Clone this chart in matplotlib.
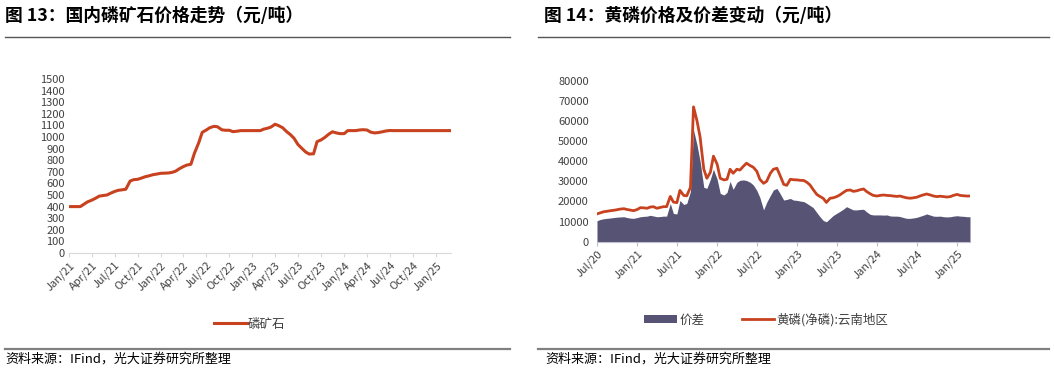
import matplotlib
matplotlib.use("Agg")
import matplotlib.pyplot as plt
import matplotlib.dates as mdates
import pandas as pd
from matplotlib.lines import Line2D

plt.rcParams['font.family'] = ['Noto Sans CJK SC', 'DejaVu Sans']

# fig 13: phosphate rock price, twice a month from Jan 2021
rock_price = [
    400, 400, 400, 400, 420, 440, 455, 470, 490, 495,
    500, 515, 530, 540, 545, 550, 620, 632, 635, 645,
    658, 665, 675, 680, 687, 688, 690, 695, 705, 725,
    745, 758, 765, 860, 950, 1040, 1060, 1080, 1092, 1088,
    1062, 1058, 1058, 1046, 1050, 1055, 1055, 1055, 1055, 1055,
    1055, 1068, 1075, 1085, 1110, 1098, 1080, 1050, 1020, 990,
    935, 905, 870, 853, 855, 960, 975, 995, 1025, 1045,
    1035, 1029, 1029, 1055, 1055, 1055, 1060, 1063, 1060, 1042,
    1035, 1038, 1045, 1052, 1056, 1055, 1055, 1055, 1055, 1055,
    1055, 1055, 1055, 1055, 1055, 1055, 1055, 1055, 1055, 1055,
    1055,
]

# fig 14: yellow phosphorus price and spread, twice a month from Jul 2020
p4_price = [
    13800, 14300, 14900, 15100, 15400, 15600, 15900, 16200, 16400, 16000,
    15700, 15400, 16000, 16900, 16800, 16600, 17200, 17400, 16600, 17000,
    17400, 17400, 22500, 19700, 19400, 25500, 23000, 22800, 27000, 67000,
    60000, 52000, 36000, 31500, 34500, 42500, 38500, 31500, 30700, 31000,
    36000, 34000, 36000, 35600, 37500, 39000, 37800, 37000, 35000, 31000,
    29000, 30000, 34000, 36000, 36500, 33000, 28500, 28000, 31000, 30800,
    30700, 30500, 30400, 29500, 28200, 26000, 23500, 22500, 21500, 19500,
    21600, 21800, 22400, 23200, 24500, 25500, 25700, 25000, 25300, 25800,
    26200, 24900, 23800, 23000, 22700, 23000, 23200, 23000, 22900, 22700,
    22500, 22700, 22200, 21800, 21600, 21800, 22100, 22700, 23300, 23700,
    23200, 22700, 22400, 22600, 22400, 22200, 22400, 23000, 23500, 23000,
    22800, 22700, 22700,
]
p4_spread = [
    10400, 11000, 11400, 11600, 11800, 12000, 12200, 12300, 12400, 12000,
    11700, 11600, 12000, 12400, 12600, 12700, 13100, 12800, 12400, 12500,
    12700, 12700, 19000, 14000, 13800, 20500, 18500, 19000, 25000, 55500,
    48000, 40000, 27000, 26500, 31000, 36000, 31000, 24000, 23200, 24500,
    30000, 26000, 29500, 30500, 30700, 30400, 29500, 28200, 25500, 22000,
    15800, 19500, 23000, 25700, 26500, 24000, 20700, 21000, 21500, 20700,
    20500, 20200, 19900, 19000, 18000, 17000, 14500, 12500, 10500, 9900,
    11600, 13000, 14100, 15000, 16200, 17400, 16500, 15800, 15800, 16000,
    16100, 14800, 13600, 13300, 13300, 13300, 13200, 13300, 12800, 12700,
    12700, 12500, 12000, 11600, 11600, 11800, 12100, 12600, 13200, 13800,
    13200, 12700, 12600, 12700, 12400, 12300, 12400, 12700, 12900, 12700,
    12600, 12400, 12400,
]

rock_dates = pd.date_range("2021-01-01", periods=len(rock_price), freq="SMS")
p4_dates = pd.date_range("2020-07-01", periods=len(p4_price), freq="SMS")

RED = "#C8421F"
PURPLE = "#575375"
TXT = "#404040"

fig = plt.figure(figsize=(10.54, 3.69), dpi=100)

# headers and footers
fig.text(0.005, 0.958, "图 13：国内磷矿石价格走势（元/吨）", fontsize=12.8, fontweight="bold", va="center")
fig.text(0.516, 0.958, "图 14：黄磷价格及价差变动（元/吨）", fontsize=12.8, fontweight="bold", va="center")
for x0, x1 in [(0.005, 0.484), (0.510, 0.995)]:
    fig.add_artist(Line2D([x0, x1], [0.901, 0.901], transform=fig.transFigure, color="#555555", lw=1.0))
    fig.add_artist(Line2D([x0, x1], [0.055, 0.055], transform=fig.transFigure, color="#808080", lw=1.6))
fig.text(0.005, 0.028, "资料来源：IFind，光大证券研究所整理", fontsize=9.4, va="center")
fig.text(0.517, 0.028, "资料来源：IFind，光大证券研究所整理", fontsize=9.4, va="center")

# left chart
ax1 = fig.add_axes([0.0655, 0.3144, 0.3624, 0.4715])
ax1.plot(rock_dates, rock_price, color=RED, lw=2.2, label="磷矿石")
ax1.set_ylim(0, 1500)
ax1.set_yticks(range(0, 1501, 100))
ax1.set_xlim(rock_dates[0], rock_dates[-1])
ax1.xaxis.set_major_locator(mdates.MonthLocator(bymonth=[1, 4, 7, 10]))
ax1.xaxis.set_major_formatter(mdates.DateFormatter("%b/%y"))
for s in ["top", "right", "left"]:
    ax1.spines[s].set_visible(False)
ax1.spines["bottom"].set_color("#D9D9D9")
ax1.tick_params(axis="y", length=0, labelsize=8, colors=TXT, pad=3)
ax1.tick_params(axis="x", length=3, color="#D9D9D9", labelsize=8, labelcolor=TXT, pad=2)
for lab in ax1.get_xticklabels():
    lab.set_rotation(45)
    lab.set_ha("right")
    lab.set_va("top")
    lab.set_rotation_mode("anchor")
ax1.legend(loc="center", bbox_to_anchor=(0.237, 0.122), bbox_transform=fig.transFigure,
           frameon=False, fontsize=9, handlelength=2.6, handletextpad=0.1, labelcolor=TXT)

# right chart
ax2 = fig.add_axes([0.5664, 0.345, 0.3539, 0.4363])
ax2.fill_between(p4_dates, p4_spread, color=PURPLE, lw=0, label="价差")
ax2.plot(p4_dates, p4_price, color=RED, lw=2.0, label="黄磷(净磷):云南地区")
ax2.set_ylim(0, 80000)
ax2.set_yticks(range(0, 80001, 10000))
ax2.set_xlim(p4_dates[0], p4_dates[-1])
ax2.xaxis.set_major_locator(mdates.MonthLocator(bymonth=[1, 7]))
ax2.xaxis.set_major_formatter(mdates.DateFormatter("%b/%y"))
for s in ["top", "right", "left"]:
    ax2.spines[s].set_visible(False)
ax2.spines["bottom"].set_color("#BFBFCC")
ax2.tick_params(axis="y", length=0, labelsize=8, colors=TXT, pad=6)
ax2.tick_params(axis="x", length=3, color="#BFBFCC", labelsize=8, labelcolor=TXT, pad=2)
for lab in ax2.get_xticklabels():
    lab.set_rotation(45)
    lab.set_ha("right")
    lab.set_va("top")
    lab.set_rotation_mode("anchor")
ax2.legend(loc="center", bbox_to_anchor=(0.727, 0.133), bbox_transform=fig.transFigure, ncol=2,
           frameon=False, fontsize=9, handlelength=2.6, handleheight=0.6, handletextpad=0.2,
           columnspacing=3.0, labelcolor=TXT)

fig.savefig("out.png", dpi=100)
